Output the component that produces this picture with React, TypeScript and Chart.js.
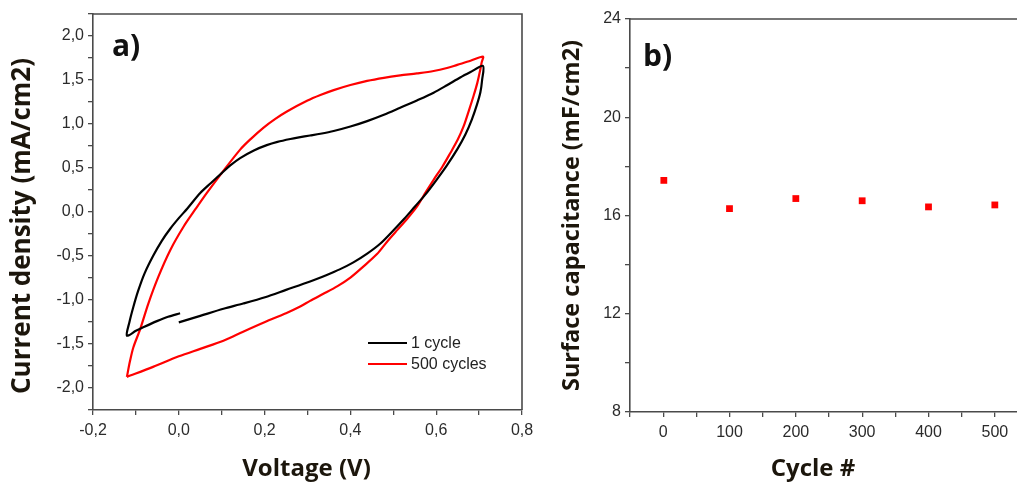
import React, { useEffect, useRef } from 'react';
import { Chart, registerables } from 'chart.js';

Chart.register(...registerables);

// ---------- Panel a) : cyclic voltammograms ----------
const cycle1Label = '1 cycle';
const cycle1Voltage = [
  0.0, 0.05, 0.104, 0.15, 0.201, 0.25, 0.306, 0.345, 0.375, 0.407, 0.44, 0.47, 0.5, 0.525, 0.55, 0.575, 0.6, 0.625, 0.65, 0.668, 0.683, 0.695, 0.703, 0.707, 0.709,
  0.68, 0.656, 0.625, 0.594, 0.555, 0.516, 0.478, 0.439, 0.4, 0.361, 0.33, 0.306, 0.28, 0.26, 0.23, 0.205, 0.175, 0.143, 0.12, 0.1, 0.075, 0.05, 0.02, 0.0,
  -0.02, -0.04, -0.06, -0.08, -0.095, -0.106, -0.115, -0.121,
  -0.1, -0.083, -0.051, -0.025, 0.003,
];
const cycle1Current = [
  -1.254, -1.18, -1.1, -1.04, -0.968, -0.885, -0.79, -0.715, -0.652, -0.572, -0.47, -0.358, -0.21, -0.08, 0.06, 0.2, 0.36, 0.53, 0.72, 0.88, 1.05, 1.22, 1.36, 1.5, 1.661,
  1.59, 1.528, 1.44, 1.356, 1.268, 1.185, 1.105, 1.033, 0.971, 0.92, 0.889, 0.869, 0.848, 0.83, 0.797, 0.76, 0.7, 0.613, 0.53, 0.442, 0.33, 0.215, 0.04, -0.07,
  -0.19, -0.33, -0.5, -0.7, -0.9, -1.08, -1.25, -1.406,
  -1.35, -1.31, -1.24, -1.19, -1.151,
];

const cycle500Label = '500 cycles';
const cycle500Voltage = [
  -0.121, -0.114, -0.106, -0.09, -0.071, -0.048, -0.02, 0.011, 0.04, 0.065, 0.1, 0.143, 0.17, 0.197, 0.225, 0.252, 0.3, 0.33, 0.361, 0.4, 0.439, 0.478, 0.516, 0.555, 0.594, 0.625, 0.649, 0.68, 0.709,
  0.706, 0.703, 0.696, 0.687, 0.676, 0.664, 0.65, 0.633, 0.615, 0.594, 0.575, 0.555, 0.532, 0.509, 0.485, 0.462, 0.43, 0.4, 0.37, 0.337, 0.306, 0.283, 0.25, 0.201, 0.15, 0.104, 0.05, 0.0, -0.06, -0.121,
];
const cycle500Current = [
  -1.874, -1.7, -1.54, -1.33, -1.04, -0.74, -0.434, -0.168, 0.04, 0.214, 0.442, 0.709, 0.84, 0.957, 1.058, 1.142, 1.266, 1.329, 1.385, 1.443, 1.49, 1.525, 1.552, 1.575, 1.602, 1.636, 1.672, 1.718, 1.765,
  1.7, 1.623, 1.47, 1.318, 1.15, 0.975, 0.82, 0.671, 0.52, 0.366, 0.22, 0.06, -0.08, -0.206, -0.34, -0.478, -0.62, -0.745, -0.842, -0.93, -1.01, -1.074, -1.15, -1.25, -1.36, -1.463, -1.555, -1.64, -1.76, -1.874,
];

const voltageMin = -0.2;
const voltageMax = 0.8;
const voltageStep = 0.1; // labelled every 0.2
const currentMin = -2.25;
const currentMax = 2.25;
const currentStep = 0.25; // labelled every 0.5

// ---------- Panel b) : capacitance retention ----------
const cycleNumbers = [1, 100, 200, 300, 400, 500];
const surfaceCapacitance = [17.43, 16.28, 16.69, 16.6, 16.35, 16.43];
const cycleMin = -50;
const cycleMax = 550;
const cycleStep = 50; // labelled every 100
const capMin = 8;
const capMax = 24;
const capStep = 2; // labelled every 4

const AXIS = '#4a4a4a';
const TICK_TEXT = '#2b2b2b';
const TITLE = '#1c160c';
const TICK_FONT = { family: '"Liberation Sans", Arial, sans-serif', size: 16 };
const PANEL_FONT = 'bold 30px "Open Sans", sans-serif';

const comma = (v: number) => v.toFixed(1).replace('.', ',');

function toPoints(xs: number[], ys: number[]) {
  return xs.map((x, i) => ({ x, y: ys[i] }));
}

function axisStyle() {
  return {
    grid: { display: true, drawOnChartArea: false, drawTicks: true, tickLength: 5, color: AXIS, lineWidth: 1.3 },
    border: { display: true, color: AXIS, width: 1.6 },
  };
}

function framePlugin(id: string, draw: (chart: any) => void) {
  return {
    id,
    afterDraw(chart: any) {
      const { ctx, chartArea: a } = chart;
      ctx.save();
      ctx.strokeStyle = AXIS;
      ctx.lineWidth = 1.6;
      ctx.beginPath();
      ctx.moveTo(a.left, a.top);
      ctx.lineTo(a.right, a.top);
      ctx.lineTo(a.right, a.bottom);
      ctx.stroke();
      ctx.restore();
      ctx.save();
      draw(chart);
      ctx.restore();
    },
  };
}

export default function App() {
  const refA = useRef<HTMLCanvasElement>(null);
  const refB = useRef<HTMLCanvasElement>(null);

  useEffect(() => {
    const chartA = new Chart(refA.current as HTMLCanvasElement, {
      type: 'scatter',
      data: {
        datasets: [
          {
            label: cycle1Label,
            data: toPoints(cycle1Voltage, cycle1Current),
            showLine: true,
            borderColor: '#000000',
            backgroundColor: '#000000',
            borderWidth: 2.2,
            pointRadius: 0,
            tension: 0.3,
          },
          {
            label: cycle500Label,
            data: toPoints(cycle500Voltage, cycle500Current),
            showLine: true,
            borderColor: '#ff0000',
            backgroundColor: '#ff0000',
            borderWidth: 2.2,
            pointRadius: 0,
            tension: 0.3,
          },
        ],
      },
      options: {
        responsive: false,
        animation: false,
        devicePixelRatio: 1,
        layout: { padding: { left: 0, top: 14, right: 18, bottom: 0 }, autoPadding: false },
        plugins: { legend: { display: false }, tooltip: { enabled: false } },
        scales: {
          x: {
            type: 'linear',
            min: voltageMin,
            max: voltageMax,
            ...axisStyle(),
            afterFit: (s: any) => { s.height = 73; },
            ticks: {
              stepSize: voltageStep,
              autoSkip: false,
              includeBounds: false,
              maxRotation: 0,
              padding: 6,
              color: TICK_TEXT,
              font: TICK_FONT,
              callback: (v: any) => (Math.abs(Math.round(Number(v) * 10)) % 2 === 0 ? comma(Number(v)) : ''),
            },
          },
          y: {
            type: 'linear',
            min: currentMin,
            max: currentMax,
            ...axisStyle(),
            afterFit: (s: any) => { s.width = 93; },
            ticks: {
              stepSize: currentStep,
              autoSkip: false,
              includeBounds: false,
              padding: 4,
              color: TICK_TEXT,
              font: TICK_FONT,
              callback: (v: any) => (Math.abs(Math.round(Number(v) * 4)) % 2 === 0 ? comma(Number(v)) : ''),
            },
          },
        },
      },
      plugins: [
        framePlugin('decorA', (chart: any) => {
          const { ctx, chartArea: a } = chart;
          // panel label
          ctx.fillStyle = '#111111';
          ctx.font = PANEL_FONT;
          ctx.textAlign = 'left';
          ctx.textBaseline = 'alphabetic';
          ctx.fillText('a)', a.left + 19, a.top + 42);
          // axis titles
          ctx.fillStyle = TITLE;
          ctx.font = 'bold 24px "Open Sans", sans-serif';
          ctx.textAlign = 'center';
          ctx.fillText('Voltage (V)', (a.left + a.right) / 2 - 1, a.bottom + 66);
          ctx.save();
          ctx.translate(a.left - 70, (a.top + a.bottom) / 2 + 14);
          ctx.rotate(-Math.PI / 2);
          ctx.textBaseline = 'middle';
          ctx.font = 'bold 26px "Open Sans", sans-serif';
          ctx.fillText('Current density (mA/cm2)', 0, 0);
          ctx.restore();
          // legend
          const ds = chart.data.datasets;
          ctx.font = '16px "Liberation Sans", Arial, sans-serif';
          ctx.textAlign = 'left';
          ctx.textBaseline = 'middle';
          ds.forEach((d: any, i: number) => {
            const y = a.bottom - 67 + i * 21;
            ctx.strokeStyle = d.borderColor;
            ctx.lineWidth = 2.2;
            ctx.beginPath();
            ctx.moveTo(a.right - 154, y);
            ctx.lineTo(a.right - 115, y);
            ctx.stroke();
            ctx.fillStyle = '#222222';
            ctx.fillText(d.label, a.right - 111, y + 1);
          });
        }),
      ],
    } as any);

    const chartB = new Chart(refB.current as HTMLCanvasElement, {
      type: 'scatter',
      data: {
        datasets: [
          {
            label: 'Surface capacitance',
            data: toPoints(cycleNumbers, surfaceCapacitance),
            pointStyle: 'rect',
            pointRadius: 4.8,
            backgroundColor: '#ff0000',
            borderColor: '#ff0000',
            borderWidth: 0,
          },
        ],
      },
      options: {
        responsive: false,
        animation: false,
        devicePixelRatio: 1,
        layout: { padding: { left: 0, top: 19, right: 12, bottom: 0 }, autoPadding: false },
        plugins: { legend: { display: false }, tooltip: { enabled: false } },
        scales: {
          x: {
            type: 'linear',
            min: cycleMin,
            max: cycleMax,
            ...axisStyle(),
            afterFit: (s: any) => { s.height = 71; },
            ticks: {
              stepSize: cycleStep,
              autoSkip: false,
              includeBounds: false,
              maxRotation: 0,
              padding: 6,
              color: TICK_TEXT,
              font: TICK_FONT,
              callback: (v: any) => (Number(v) >= 0 && Number(v) % 100 === 0 ? String(v) : ''),
            },
          },
          y: {
            type: 'linear',
            min: capMin,
            max: capMax,
            ...axisStyle(),
            afterFit: (s: any) => { s.width = 90; },
            ticks: {
              stepSize: capStep,
              autoSkip: false,
              includeBounds: false,
              padding: 4,
              color: TICK_TEXT,
              font: TICK_FONT,
              callback: (v: any) => (Number(v) % 4 === 0 ? String(v) : ''),
            },
          },
        },
      },
      plugins: [
        framePlugin('decorB', (chart: any) => {
          const { ctx, chartArea: a } = chart;
          ctx.fillStyle = '#111111';
          ctx.font = PANEL_FONT;
          ctx.textAlign = 'left';
          ctx.textBaseline = 'alphabetic';
          ctx.fillText('b)', a.left + 13, a.top + 47);
          ctx.fillStyle = TITLE;
          ctx.font = 'bold 24px "Open Sans", sans-serif';
          ctx.textAlign = 'center';
          ctx.fillText('Cycle #', a.left + 183, a.bottom + 64);
          ctx.save();
          ctx.translate(a.left - 58, (a.top + a.bottom) / 2);
          ctx.rotate(-Math.PI / 2);
          ctx.textBaseline = 'middle';
          ctx.font = 'bold 23.5px "Open Sans", sans-serif';
          ctx.fillText('Surface capacitance (mF/cm2)', 0, 0);
          ctx.restore();
        }),
      ],
    } as any);

    return () => {
      chartA.destroy();
      chartB.destroy();
    };
  }, []);

  return (
    <div
      style={{
        position: 'fixed',
        left: 0,
        top: 0,
        width: 1017,
        height: 483,
        overflow: 'hidden',
        background: '#ffffff',
      }}
    >
      <canvas
        ref={refA}
        width={540}
        height={483}
        style={{ position: 'absolute', left: 0, top: 0, width: 540, height: 483 }}
      />
      <canvas
        ref={refB}
        width={500}
        height={483}
        style={{ position: 'absolute', left: 540, top: 0, width: 500, height: 483 }}
      />
    </div>
  );
}
